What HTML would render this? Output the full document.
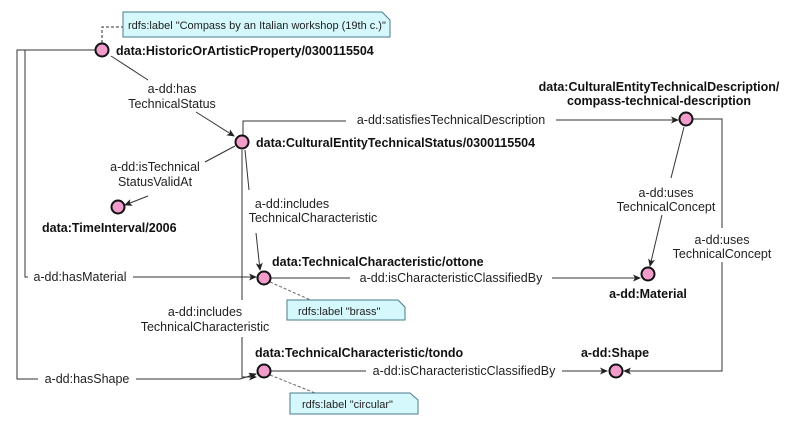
<!DOCTYPE html>
<html><head><meta charset="utf-8"><style>
html,body{margin:0;padding:0;background:#fff}
svg{display:block}
text{font-family:"Liberation Sans",sans-serif;font-size:12.5px;fill:#222}
.b{font-weight:bold;font-size:12.5px;fill:#111}
.n{font-size:11px}
</style></head><body>
<svg width="800" height="423" viewBox="0 0 800 423" xmlns="http://www.w3.org/2000/svg">
<defs><marker id="a" markerWidth="8" markerHeight="8" refX="7" refY="4" orient="auto" markerUnits="userSpaceOnUse"><path d="M0,0.5 L8,4 L0,7.5 L2,4z" fill="#222"/></marker></defs>
<g stroke="#333" stroke-width="1" fill="none">
<path d="M102,43 V27 H123" stroke-dasharray="3,2"/>
<path d="M270,282 L315,302" stroke-dasharray="3,2" stroke="#666"/>
<path d="M270,375 L320,395" stroke-dasharray="3,2" stroke="#666"/>
<path d="M95,50 H17 V379 H38"/>
<path d="M25,50 V277 H28"/>
<path d="M133,277 H256" marker-end="url(#a)"/>
<path d="M136,379 H240 L256,374" marker-end="url(#a)"/>
<path d="M111,56 L148,80"/>
<path d="M196,112 L234,136" marker-end="url(#a)"/>
<path d="M235,146 L205,162"/>
<path d="M148,196 L125,205" marker-end="url(#a)"/>
<path d="M243,135 V121 H346"/>
<path d="M556,120 H678" marker-end="url(#a)"/>
<path d="M245,150 L249,190"/>
<path d="M256,233 L260,270" marker-end="url(#a)"/>
<path d="M242,150 V300"/>
<path d="M242,337 V377 H256" marker-end="url(#a)"/>
<path d="M271,278 H350"/>
<path d="M552,278 H640" marker-end="url(#a)"/>
<path d="M271,371 H366"/>
<path d="M562,371 H607" marker-end="url(#a)"/>
<path d="M684,127 L671,178"/>
<path d="M662,215 L650,266" marker-end="url(#a)"/>
<path d="M693,119 H722 V228"/>
<path d="M722,262 V371 H624" marker-end="url(#a)"/>
</g>
<g stroke="#4a7a8a" stroke-width="1" fill="#d4f8fc">
<path d="M123,12 H382 L390,20 V37 H123 Z"/>
<path d="M287,300 H398 L405,307 V320 H287 Z"/>
<path d="M290,393 H410 L418,400 V414 H290 Z"/>
</g>
<text class="n" x="128" y="29">rdfs:label "Compass by an Italian workshop (19th c.)"</text>
<text class="n" x="298" y="315">rdfs:label "brass"</text>
<text class="n" x="302" y="408">rdfs:label "circular"</text>
<g fill="#f29ccb" stroke="#111" stroke-width="2">
<circle cx="102" cy="50" r="6.5"/>
<circle cx="242" cy="142" r="6.5"/>
<circle cx="118" cy="207" r="6.5"/>
<circle cx="686" cy="119" r="6.5"/>
<circle cx="264" cy="278" r="6.5"/>
<circle cx="648" cy="274" r="6.5"/>
<circle cx="264" cy="371" r="6.5"/>
<circle cx="616" cy="371" r="6.5"/>
</g>
<text class="b" x="116" y="55">data:HistoricOrArtisticProperty/0300115504</text>
<text class="b" x="256" y="147">data:CulturalEntityTechnicalStatus/0300115504</text>
<text class="b" x="42" y="232">data:TimeInterval/2006</text>
<text class="b" x="659" y="91" text-anchor="middle">data:CulturalEntityTechnicalDescription/</text>
<text class="b" x="659" y="105" text-anchor="middle">compass-technical-description</text>
<text class="b" x="272" y="266">data:TechnicalCharacteristic/ottone</text>
<text class="b" x="648" y="298" text-anchor="middle">a-dd:Material</text>
<text class="b" x="255" y="357">data:TechnicalCharacteristic/tondo</text>
<text class="b" x="615" y="357" text-anchor="middle">a-dd:Shape</text>
<g text-anchor="middle">
<text x="172" y="93">a-dd:has</text>
<text x="172" y="108">TechnicalStatus</text>
<text x="155" y="171">a-dd:isTechnical</text>
<text x="155" y="186">StatusValidAt</text>
<text x="451" y="124">a-dd:satisfiesTechnicalDescription</text>
<text x="292" y="208">a-dd:includes</text>
<text x="313" y="222">TechnicalCharacteristic</text>
<text x="205" y="316">a-dd:includes</text>
<text x="205" y="331">TechnicalCharacteristic</text>
<text x="80" y="281">a-dd:hasMaterial</text>
<text x="87" y="383">a-dd:hasShape</text>
<text x="451" y="282">a-dd:isCharacteristicClassifiedBy</text>
<text x="464" y="375">a-dd:isCharacteristicClassifiedBy</text>
<text x="666" y="197">a-dd:uses</text>
<text x="666" y="211">TechnicalConcept</text>
<text x="722" y="244">a-dd:uses</text>
<text x="722" y="258">TechnicalConcept</text>
</g>
</svg>
</body></html>
